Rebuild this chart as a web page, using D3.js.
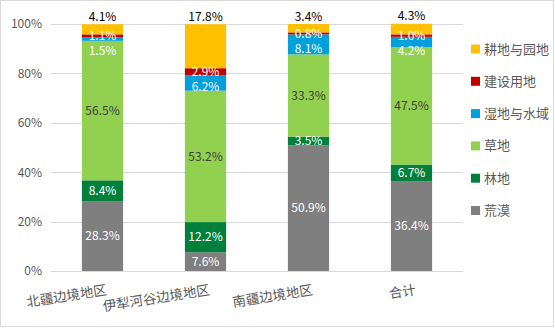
<!DOCTYPE html>
<html>
<head>
<meta charset="utf-8">
<script src="https://cdn.jsdelivr.net/npm/d3@7"></script>
<style>
  html, body { margin: 0; padding: 0; background: #fff; }
  svg { display: block; font-family: "Noto Sans CJK SC", "Noto Sans", sans-serif; }
</style>
</head>
<body>
<svg id="chart" width="555" height="328"></svg>
<script>
// Regions along the x axis
const regions = ["北疆边境地区", "伊犁河谷边境地区", "南疆边境地区", "合计"];

// Land-use series, bottom of the stack first (percent of each region)
const seriesNames = ["荒漠", "林地", "草地", "湿地与水域", "建设用地", "耕地与园地"];
const desert       = [28.3, 7.6, 50.9, 36.4];
const forest       = [8.4, 12.2, 3.5, 6.7];
const grassland    = [56.5, 53.2, 33.3, 47.5];
const wetland      = [1.5, 6.2, 8.1, 4.2];
const construction = [1.1, 2.9, 0.8, 1.0];
const farmland     = [4.1, 17.8, 3.4, 4.3];
const seriesValues = [desert, forest, grassland, wetland, construction, farmland];

const yTicks = [0, 20, 40, 60, 80, 100];

const colors = ["#7f7f7f", "#00803a", "#92d050", "#00a0dc", "#c00000", "#ffc000"];
const labelColors = ["#ffffff", "#ffffff", "#404040", "#ffffff", "#ffffff", "#000000"];

const svg = d3.select("#chart");
const W = 555, H = 328;
const plot = { left: 51, right: 463, top: 24, bottom: 271 };

// outer chart border
svg.append("rect")
  .attr("x", 0.5).attr("y", 0.5)
  .attr("width", W - 2).attr("height", H - 2)
  .attr("fill", "#fff").attr("stroke", "#d9d9d9");

const x = d3.scaleBand().domain(regions).range([plot.left, plot.right]).paddingInner(0.6).paddingOuter(0.3);
const y = d3.scaleLinear().domain([0, 100]).range([plot.bottom, plot.top]);

// gridlines
svg.append("g").selectAll("line").data(yTicks).join("line")
  .attr("x1", plot.left).attr("x2", plot.right)
  .attr("y1", d => Math.round(y(d)) + 0.5).attr("y2", d => Math.round(y(d)) + 0.5)
  .attr("stroke", "#d9d9d9").attr("stroke-width", 1);

// y axis labels
const yAxis = d3.axisLeft(y).tickValues(yTicks).tickFormat(d => d + "%").tickSize(0).tickPadding(9);
const yg = svg.append("g").attr("transform", `translate(${plot.left},0)`).call(yAxis);
yg.select(".domain").remove();
yg.selectAll("text").attr("fill", "#595959").style("font-size", "12px")
  .style("font-family", "'Noto Sans CJK SC', 'Noto Sans', sans-serif");

// stacked data
const rows = regions.map((r, i) => {
  const o = { region: r };
  seriesNames.forEach((s, k) => { o[s] = seriesValues[k][i]; });
  return o;
});
const stacked = d3.stack().keys(seriesNames)(rows);

const gBars = svg.append("g");
stacked.forEach((layer, k) => {
  gBars.append("g").attr("fill", colors[k]).selectAll("rect").data(layer).join("rect")
    .attr("x", d => x(d.data.region))
    .attr("width", x.bandwidth())
    .attr("y", d => y(d[1]))
    .attr("height", d => y(d[0]) - y(d[1]));
});

// data labels: centred in segments, pushed down when they would collide
const labelGap = 15.5;
const gLabels = svg.append("g").style("font-size", "12px").attr("text-anchor", "middle");
regions.forEach((r, i) => {
  const cx = x(r) + x.bandwidth() / 2;
  let prevY = -Infinity;
  for (let k = seriesNames.length - 1; k >= 0; k--) {
    const seg = stacked[k][i];
    const v = seriesValues[k][i];
    let cy;
    if (k === seriesNames.length - 1) {
      // top series is labelled above the bar
      cy = y(seg[1]) - 7.5;
      gLabels.append("text").attr("x", cx).attr("y", cy).attr("dy", "0.35em")
        .attr("fill", labelColors[k]).text(v.toFixed(1) + "%");
      continue;
    }
    cy = Math.max((y(seg[0]) + y(seg[1])) / 2, prevY + labelGap);
    prevY = cy;
    gLabels.append("text").attr("x", cx).attr("y", cy).attr("dy", "0.35em")
      .attr("fill", labelColors[k]).text(v.toFixed(1) + "%");
  }
});

// x axis category labels, slanted
const gx = svg.append("g").style("font-size", "13.5px").attr("fill", "#595959");
regions.forEach(r => {
  const cx = x(r) + x.bandwidth() / 2 + 3;
  gx.append("text")
    .attr("transform", `translate(${cx},${plot.bottom + 12}) rotate(-9)`)
    .attr("text-anchor", "end").attr("dy", "0.85em")
    .text(r);
});

// legend, top series first
const legend = svg.append("g").style("font-size", "13px");
const legendOrder = seriesNames.map((s, k) => k).reverse();
legendOrder.forEach((k, j) => {
  const cy = 49 + j * 32.3;
  legend.append("rect").attr("x", 471).attr("y", cy - 4.5).attr("width", 9).attr("height", 9)
    .attr("fill", colors[k]);
  legend.append("text").attr("x", 484).attr("y", cy).attr("dy", "0.35em")
    .attr("fill", "#595959").text(seriesNames[k]);
});
</script>
</body>
</html>
